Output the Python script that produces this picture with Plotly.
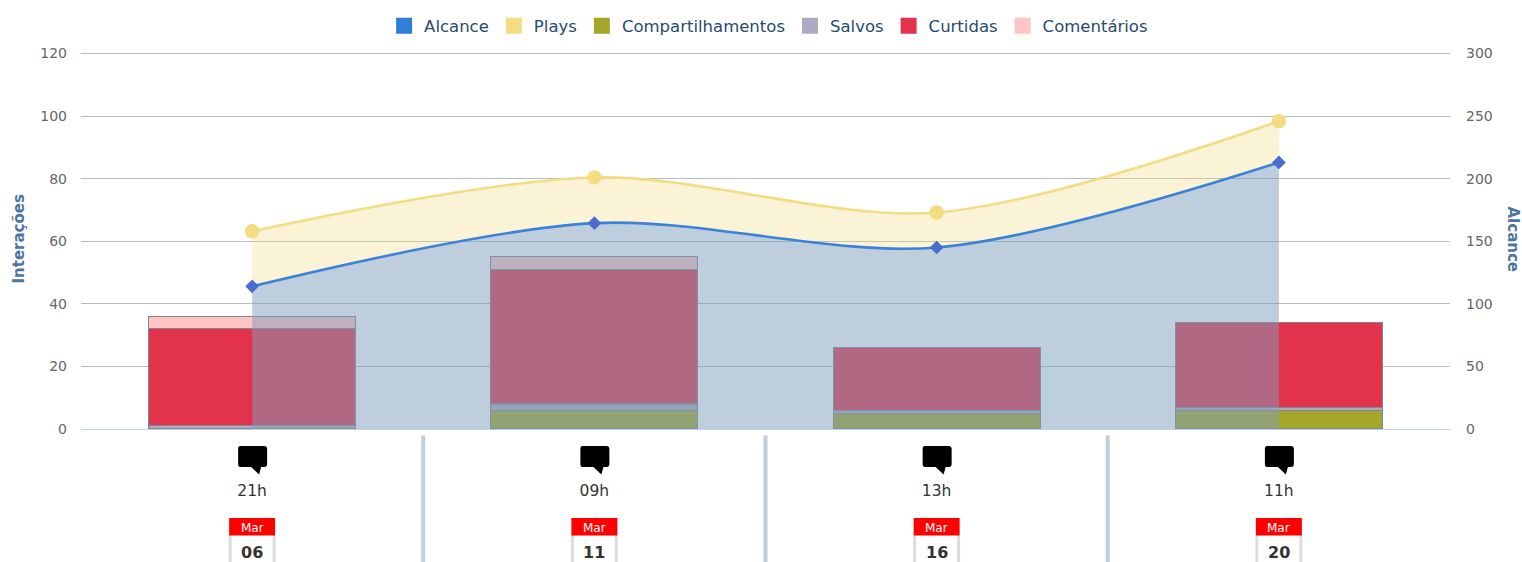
import plotly.graph_objects as go

hours = ["21h", "09h", "13h", "11h"]
months = ["Mar", "Mar", "Mar", "Mar"]
days = ["06", "11", "16", "20"]
alcance = [114, 164.5, 145, 213]
plays = [158, 201, 173, 246]
compartilhamentos = [0, 6, 5, 6]
salvos = [1, 2, 1, 1]
curtidas = [31, 43, 20, 27]
comentarios = [4, 4, 0, 0]

C_ALC, C_PLAY, C_COMP, C_SALV, C_CURT, C_COM = "#2f7ed8", "#f4dc82", "#a6a72a", "#aeaac2", "#e3324c", "#ffc4c4"
FONT = "DejaVu Sans, sans-serif"
BORDER = "#7b8a92"

fig = go.Figure()
for name, vals, col in [("Compartilhamentos", compartilhamentos, C_COMP), ("Salvos", salvos, C_SALV),
                        ("Curtidas", curtidas, C_CURT), ("Comentários", comentarios, C_COM)]:
    fig.add_trace(go.Bar(x=hours, y=vals, name=name, marker=dict(color=col, line=dict(color=BORDER, width=1.1)),
                         width=0.605, showlegend=False, yaxis="y"))

fig.add_trace(go.Scatter(x=hours, y=alcance, name="Alcance", yaxis="y2", mode="lines+markers", fill="tozeroy",
                         fillcolor="rgba(125,157,185,0.5)",
                         line=dict(color="#3b82d9", width=2.6, shape="spline", smoothing=0.9),
                         marker=dict(symbol="diamond", size=10.5, color="#4a6bd0"), showlegend=False))
fig.add_trace(go.Scatter(x=hours, y=plays, name="Plays", yaxis="y2", mode="lines+markers", fill="tonexty",
                         fillcolor="rgba(244,220,130,0.33)",
                         line=dict(color=C_PLAY, width=2.6, shape="spline", smoothing=0.9),
                         marker=dict(symbol="circle", size=14.5, color=C_PLAY), showlegend=False))

for name, col in [("Alcance", C_ALC), ("Plays", C_PLAY), ("Compartilhamentos", C_COMP),
                  ("Salvos", C_SALV), ("Curtidas", C_CURT), ("Comentários", C_COM)]:
    fig.add_trace(go.Scatter(x=[None], y=[None], name=name, mode="markers", yaxis="y",
                             marker=dict(symbol="square", size=16, color=col)))

shapes, annotations = [], []
def pix(i, path, **kw):
    shapes.append(dict(type="path", xref="x", yref="paper", xsizemode="pixel", ysizemode="pixel",
                       xanchor=i, yanchor=0, path=path, layer="above", **kw))

bubble = ("M-12,-17 H12 Q15,-17 15,-20 V-35 Q15,-38 12,-38 H9 L7,-45.5 L-1,-38 H-12 "
          "Q-14,-38 -14,-35 V-20 Q-14,-17 -12,-17 Z")
for i, (m, d) in enumerate(zip(months, days)):
    pix(i, bubble, fillcolor="#000000", line=dict(width=0))
    pix(i, "M-22,-106 V-134", line=dict(color="#dddddd", width=3))
    pix(i, "M22,-106 V-134", line=dict(color="#dddddd", width=3))
    pix(i, "M-23,-89 H23 V-106.5 H-23 Z", fillcolor="#ff0000", line=dict(width=0))
    annotations.append(dict(x=i, xref="x", y=0, yref="paper", yshift=-98.5, yanchor="middle", text=m, showarrow=False,
                            font=dict(family=FONT, size=12, color="#ffffff")))
    annotations.append(dict(x=i, xref="x", y=0, yref="paper", yshift=-123, yanchor="middle", text="<b>%s</b>" % d,
                            showarrow=False, font=dict(family=FONT, size=16, color="#333333")))
    if i < len(days) - 1:
        pix(i + 0.5, "M0,-6.5 V-134", line=dict(color="#bfcfdd", width=4))

titlefont = dict(family=FONT, size=15, color="#4d759e")
annotations.append(dict(x=1, xref="paper", xshift=63, xanchor="center", y=0.5, yref="paper", yanchor="middle",
                        yshift=1, text="<b>Alcance</b>", textangle=90, showarrow=False, font=titlefont))
annotations.append(dict(x=0, xref="paper", xshift=-63, xanchor="center", y=0.5, yref="paper", yanchor="middle",
                        yshift=1, text="<b>Interações</b>", textangle=-90, showarrow=False, font=titlefont))

tickfont = dict(family=FONT, size=14, color="#666666")
fig.update_layout(
    width=1522, height=562, autosize=False,
    margin=dict(l=81, r=72, t=52, b=133, pad=0),
    paper_bgcolor="#ffffff", plot_bgcolor="#ffffff",
    barmode="stack", shapes=shapes, annotations=annotations,
    font=dict(family=FONT),
    legend=dict(orientation="h", xref="container", yref="container", x=0.505, xanchor="center",
                y=0.985, yanchor="top", traceorder="normal",
                font=dict(family=FONT, size=16.5, color="#274b6d"), itemsizing="trace",
                itemclick=False, itemdoubleclick=False),
    xaxis=dict(type="category", range=[-0.5, 3.5], showgrid=False, ticks="", zeroline=False, automargin=False,
               showline=True, linecolor="#c0d0e0", linewidth=1, ticklabelstandoff=47,
               tickfont=dict(family=FONT, size=15.5, color="#333333")),
    yaxis=dict(range=[0, 120.5], tickvals=[0, 20, 40, 60, 80, 100, 120], gridcolor="#b7bdbd", gridwidth=1,
               zeroline=False, tickfont=tickfont, ticklabelstandoff=13, automargin=False),
    yaxis2=dict(range=[0, 301.25], tickvals=[0, 50, 100, 150, 200, 250, 300], overlaying="y", side="right",
                showgrid=False, zeroline=False, tickfont=tickfont, ticklabelstandoff=15, automargin=False),
)
fig.write_html("out.html", post_script="document.body.style.margin='0';", config={"displayModeBar": False})
